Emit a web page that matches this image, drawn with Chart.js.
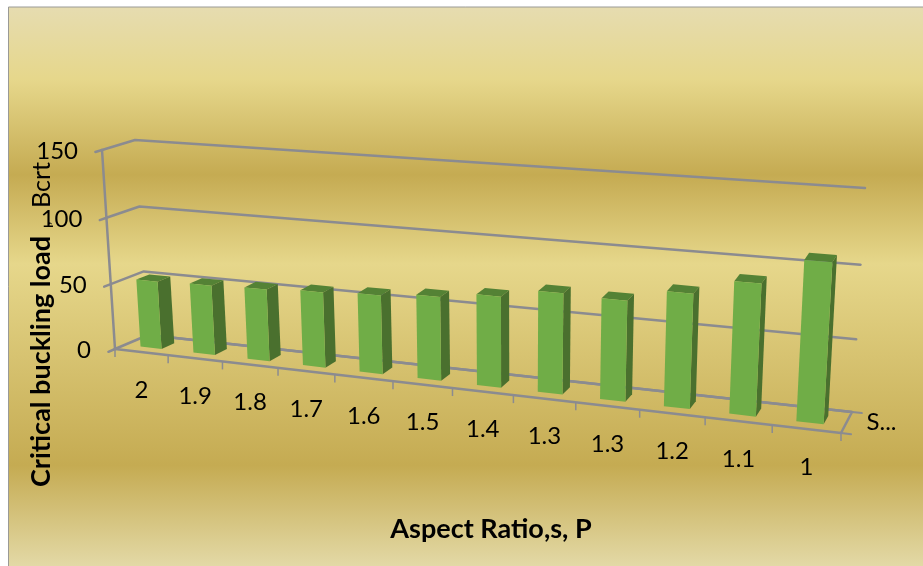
<!DOCTYPE html>
<html>
<head>
<meta charset="utf-8">
<title>Critical buckling load</title>
<script src="https://cdn.jsdelivr.net/npm/chart.js@4"></script>
<style>
   html, body { margin: 0; padding: 0; background: #fff; }
   canvas { display: block; }
</style>
</head>
<body>
<canvas id="bucklingChart" width="923" height="566"></canvas>
<script>
var aspectRatios = ["2", "1.9", "1.8", "1.7", "1.6", "1.5", "1.4", "1.3", "1.3", "1.2", "1.1", "1"];
var bucklingLoads = [51.8, 52.8, 54, 56, 58, 61, 65.5, 72, 71, 80, 91, 109];
var loadTicks = [0, 50, 100, 150];
var seriesName = "S...";
var xTitle = "Aspect Ratio,s, P";
var yTitleBold = "Critical buckling load";
var yTitleComma = ",";
var yTitleSymbol = "Bcrt";

// corners of the 3D box as it lands on the screen: bottom left, bottom right, top right, top left
var frontPlane = [[115, 349], [841, 433], [854, 206], [102, 150]];
var backPlane = [[148, 335], [852, 412], [865, 188], [135, 140]];
var barDepth = [0.3, 0.7];

var gridColor = "#8b8b90";
var barFront = "#70ad47";
var barSide = "#4a702e";
var barTop = "#548235";

// unit square -> quad, standard projective mapping
function makeHomography(q) {
   var dx1 = q[1][0] - q[2][0], dx2 = q[3][0] - q[2][0], sx = q[0][0] - q[1][0] + q[2][0] - q[3][0];
   var dy1 = q[1][1] - q[2][1], dy2 = q[3][1] - q[2][1], sy = q[0][1] - q[1][1] + q[2][1] - q[3][1];
   var det = dx1 * dy2 - dx2 * dy1;
   var g = (sx * dy2 - dx2 * sy) / det;
   var h = (dx1 * sy - sx * dy1) / det;
   var a = q[1][0] - q[0][0] + g * q[1][0], b = q[3][0] - q[0][0] + h * q[3][0];
   var d = q[1][1] - q[0][1] + g * q[1][1], e = q[3][1] - q[0][1] + h * q[3][1];
   return function (u, v) {
      var n = g * u + h * v + 1;
      return [(a * u + b * v + q[0][0]) / n, (d * u + e * v + q[0][1]) / n];
   };
}
var frontMap = makeHomography(frontPlane);
var backMap = makeHomography(backPlane);

function project(u, v, w) {
   var f = frontMap(u, v), b = backMap(u, v);
   return [f[0] + (b[0] - f[0]) * w, f[1] + (b[1] - f[1]) * w];
}

function polyline(ctx, pts, color, width) {
   ctx.beginPath();
   pts.forEach(function (p, i) {
      if (i === 0) ctx.moveTo(p[0], p[1]);
      else ctx.lineTo(p[0], p[1]);
   });
   ctx.strokeStyle = color;
   ctx.lineWidth = width;
   ctx.stroke();
}

function polygon(ctx, pts, color) {
   ctx.beginPath();
   pts.forEach(function (p, i) {
      if (i === 0) ctx.moveTo(p[0], p[1]);
      else ctx.lineTo(p[0], p[1]);
   });
   ctx.closePath();
   ctx.fillStyle = color;
   ctx.fill();
}

var backgroundPlugin = {
   id: "goldBackground",
   beforeDraw: function (chart) {
      var ctx = chart.ctx;
      var g = ctx.createLinearGradient(0, 7, 0, 566);
      g.addColorStop(0, "#e6dcb0");
      g.addColorStop(0.13, "#e6d78b");
      g.addColorStop(0.3, "#c5ab52");
      g.addColorStop(0.46, "#e6d78b");
      g.addColorStop(0.82, "#c5ab52");
      g.addColorStop(1, "#e3d9a6");
      ctx.save();
      ctx.fillStyle = "#ffffff";
      ctx.fillRect(0, 0, 923, 566);
      ctx.fillStyle = g;
      ctx.fillRect(8, 7, 915, 559);
      polyline(ctx, [[8.5, 566], [8.5, 7], [923, 7]], "#9a9a96", 1);
      ctx.restore();
   }
};

var box3dPlugin = {
   id: "box3d",
   beforeDatasetsDraw: function (chart) {
      var ctx = chart.ctx, xs = chart.scales.x, ys = chart.scales.y;
      var W = chart.width;
      var vOf = function (val) { return (ys.bottom - ys.getPixelForValue(val)) / (ys.bottom - ys.top); };
      var step = xs.getPixelForValue(1) - xs.getPixelForValue(0);
      ctx.save();
      ctx.lineCap = "round";
      ctx.lineJoin = "round";

      // walls: front-left corner, back-left corner, back-right corner for every load tick
      ys.ticks.forEach(function (t) {
         var v = vOf(t.value);
         polyline(ctx, [project(0, v, -0.2), project(0, v, 0), project(0, v, 1), project(1, v, 1)], gridColor, 2.5);
      });
      polyline(ctx, [project(0, 0, 0), project(0, 1, 0)], gridColor, 2.5);

      // floor outline
      polyline(ctx, [project(0, 0, 0), project(1, 0, 0), project(1, 0, 1), project(0, 0, 1)], gridColor, 2.5);
      polyline(ctx, [project(1, 0, 0), project(1.012, 0, 0)], gridColor, 2);
      polyline(ctx, [project(1, 0, 1), project(1.012, 0, 1)], gridColor, 2);

      // category ticks on the front edge
      ctx.lineCap = "butt";
      for (var i = 0; i <= xs.ticks.length; i++) {
         var u = (xs.getPixelForValue(0) + (i - 0.5) * step) / W;
         var p = project(u, 0, 0);
         polyline(ctx, [p, [p[0], p[1] + 8]], gridColor, 1.5);
      }
      ctx.restore();
   },
   afterDatasetsDraw: function (chart) {
      var ctx = chart.ctx, ys = chart.scales.y, xs = chart.scales.x;
      var W = chart.width;
      var H = ys.bottom - ys.top;
      ctx.save();
      chart.getDatasetMeta(0).data.forEach(function (bar) {
         var u0 = (bar.x - bar.width / 2) / W, u1 = (bar.x + bar.width / 2) / W;
         var v = (ys.bottom - bar.y) / H, w0 = barDepth[0], w1 = barDepth[1];
         polygon(ctx, [project(u0, v, w0), project(u1, v, w0), project(u1, v, w1), project(u0, v, w1)], barTop);
         polygon(ctx, [project(u1, 0, w0), project(u1, 0, w1), project(u1, v, w1), project(u1, v, w0)], barSide);
         polygon(ctx, [project(u0, 0, w0), project(u1, 0, w0), project(u1, v, w0), project(u0, v, w0)], barFront);
      });

      // load tick labels
      ctx.fillStyle = "#000000";
      ctx.font = "24px Lato";
      ctx.textBaseline = "middle";
      ctx.textAlign = "right";
      ys.ticks.forEach(function (t) {
         var p = project(0, (ys.bottom - ys.getPixelForValue(t.value)) / H, 0);
         ctx.fillText(t.label, p[0] - 24, p[1] + 1);
      });

      // aspect ratio tick labels
      ctx.textAlign = "center";
      xs.ticks.forEach(function (t, i) {
         var p = project(xs.getPixelForValue(i) / W, 0, 0);
         ctx.fillText(xs.getLabelForValue(t.value), p[0], p[1] + 38);
      });

      // depth axis label
      var s = project(1, 0, 0.5);
      ctx.textAlign = "left";
      ctx.fillText(seriesName, s[0] + 20, s[1]);

      // axis titles
      ctx.textAlign = "center";
      ctx.textBaseline = "alphabetic";
      ctx.font = "bold 27px Lato";
      ctx.fillText(xTitle, 491, 538);

      ctx.translate(50, 487);
      ctx.rotate(-Math.PI / 2);
      ctx.textAlign = "left";
      ctx.font = "bold 27px Lato";
      ctx.fillText(yTitleBold, 0, 0);
      ctx.font = "bold 14px Lato";
      ctx.fillText(yTitleComma, 262, 0);
      ctx.font = "25px Lato";
      ctx.fillText(yTitleSymbol, 279, 0);
      ctx.restore();
   }
};

var chart = new Chart(document.getElementById("bucklingChart").getContext("2d"), {
   type: "bar",
   data: {
      labels: aspectRatios,
      datasets: [
         {
            label: "Series1",
            data: bucklingLoads,
            backgroundColor: "rgba(0,0,0,0)",
            categoryPercentage: 0.4,
            barPercentage: 1,
         },
      ],
   },
   options: {
      responsive: false,
      animation: false,
      layout: { padding: 0 },
      plugins: { legend: { display: false }, tooltip: { enabled: false } },
      scales: {
         x: { display: false },
         y: {
            display: false,
            min: loadTicks[0],
            max: loadTicks[loadTicks.length - 1],
            ticks: { stepSize: loadTicks[1] - loadTicks[0] },
         },
      },
   },
   plugins: [backgroundPlugin, box3dPlugin],
});
</script>
</body>
</html>
